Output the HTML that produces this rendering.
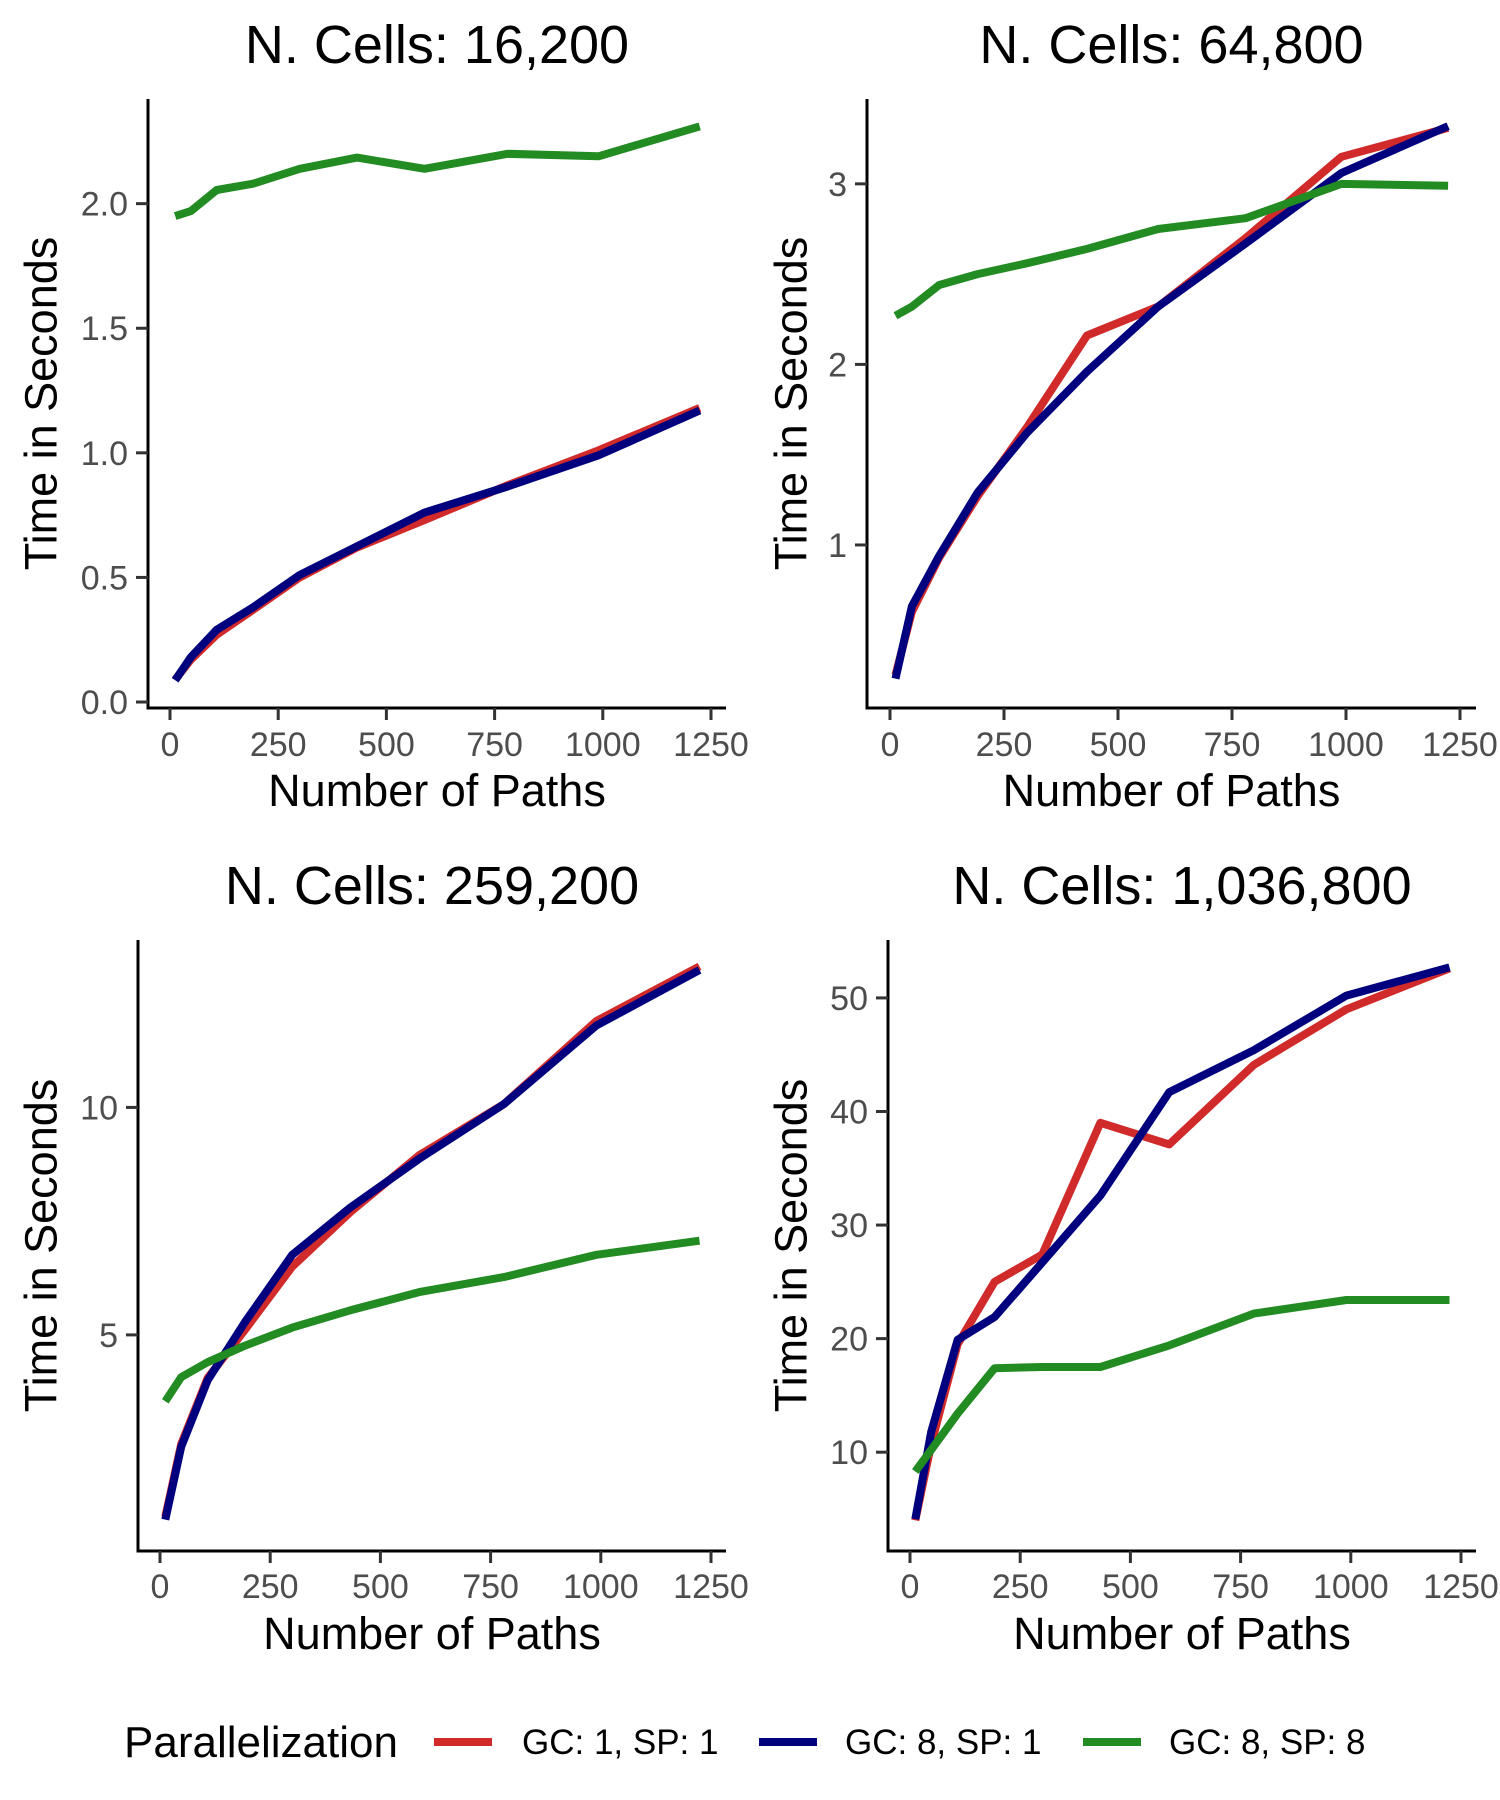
<!DOCTYPE html>
<html><head><meta charset="utf-8">
<style>html,body{margin:0;padding:0;background:#fff}svg{display:block}text{font-family:"Liberation Sans",Arial,sans-serif}</style>
</head><body>
<svg id="chart" width="1500" height="1800" viewBox="0 0 1500 1800" xmlns="http://www.w3.org/2000/svg"></svg>
<script>
const xPaths = [12, 48, 108, 192, 300, 432, 588, 780, 990, 1224];
const xTicks = [0, 250, 500, 750, 1000, 1250];
const seriesNames = ["GC: 1, SP: 1", "GC: 8, SP: 1", "GC: 8, SP: 8"];
const panelTitles = ["N. Cells: 16,200", "N. Cells: 64,800", "N. Cells: 259,200", "N. Cells: 1,036,800"];
const p1Red = [0.09,0.17,0.27,0.37,0.50,0.62,0.73,0.87,1.01,1.18];
const p1Blue = [0.087,0.18,0.29,0.38,0.51,0.625,0.76,0.865,0.99,1.17];
const p1Green = [1.95,1.97,2.055,2.08,2.14,2.185,2.14,2.20,2.19,2.31];
const p2Red = [0.28,0.63,0.93,1.27,1.65,2.16,2.32,2.70,3.15,3.31];
const p2Blue = [0.26,0.66,0.94,1.29,1.62,1.96,2.32,2.67,3.06,3.32];
const p2Green = [2.27,2.32,2.44,2.50,2.56,2.64,2.75,2.81,3.00,2.99];
const p3Red = [1.0,2.6,4.05,5.1,6.5,7.7,8.95,10.07,11.9,13.1];
const p3Blue = [0.94,2.54,4.00,5.27,6.76,7.80,8.87,10.07,11.80,13.02];
const p3Green = [3.54,4.07,4.40,4.76,5.16,5.54,5.94,6.27,6.76,7.07];
const p4Red = [4.0,10.7,19.5,25.0,27.4,39.0,37.1,44.1,49.0,52.6];
const p4Blue = [4.1,11.8,19.9,21.9,26.7,32.6,41.7,45.4,50.2,52.7];
const p4Green = [8.3,10.2,13.4,17.4,17.5,17.5,19.4,22.2,23.4,23.4];
const p1YTicks = [0, 0.5, 1, 1.5, 2];
const p1YLabels = ["0.0","0.5","1.0","1.5","2.0"];
const p2YTicks = [1, 2, 3];
const p2YLabels = ["1","2","3"];
const p3YTicks = [5, 10];
const p3YLabels = ["5","10"];
const p4YTicks = [10, 20, 30, 40, 50];
const p4YLabels = ["10","20","30","40","50"];

const colors = ["#d12a2a", "#00007f", "#228b22"];
const NS = "http://www.w3.org/2000/svg";
const svg = document.getElementById("chart");
function mk(tag, attrs, parent, txt) {
  const e = document.createElementNS(NS, tag);
  for (const k in attrs) e.setAttribute(k, attrs[k]);
  if (txt !== undefined) e.textContent = txt;
  (parent || svg).appendChild(e);
  return e;
}
const layouts = [
  {left:148,right:726,top:99,bottom:708,x0:170,x1:711,ymin:-0.024,ymax:2.42,titleY:63,tickY:756,xtitleY:806,ytitleX:41},
  {left:867,right:1476,top:99,bottom:708,x0:890,x1:1460,ymin:0.097,ymax:3.47,titleY:63,tickY:756,xtitleY:806,ytitleX:791},
  {left:138,right:726,top:940,bottom:1551,x0:160,x1:711,ymin:0.25,ymax:13.68,titleY:904,tickY:1598,xtitleY:1649,ytitleX:41},
  {left:888,right:1476,top:940,bottom:1551,x0:910,x1:1461,ymin:1.3,ymax:55.1,titleY:904,tickY:1598,xtitleY:1649,ytitleX:791}
];
const panelData = [[p1Red,p1Blue,p1Green],[p2Red,p2Blue,p2Green],[p3Red,p3Blue,p3Green],[p4Red,p4Blue,p4Green]];
const panelYTicks = [p1YTicks,p2YTicks,p3YTicks,p4YTicks];
const panelYLabels = [p1YLabels,p2YLabels,p3YLabels,p4YLabels];

layouts.forEach((L, i) => {
  const g = mk("g", {});
  
  
  const xs = v => L.x0 + (v / 1250) * (L.x1 - L.x0);
  const ys = v => L.bottom - (v - L.ymin) / (L.ymax - L.ymin) * (L.bottom - L.top);
  const cx = (L.left + L.right) / 2;
  const t = mk("text", {x:cx, y:L.titleY, "font-size":54, "text-anchor":"middle", fill:"#000"}, g, panelTitles[i]);
  
  
  panelData[i].forEach((vals, s) => {
    const pts = vals.map((v, k) => xs(xPaths[k]).toFixed(1) + "," + ys(v).toFixed(1)).join(" ");
    const pl = mk("polyline", {points:pts, fill:"none", stroke:colors[s], "stroke-width":8, "stroke-linejoin":"round"}, g);
    
    
  });
  const ya = mk("line", {x1:L.left, y1:L.top, x2:L.left, y2:L.bottom + 1.5, stroke:"#000", "stroke-width":3}, g);
  
  
  const xa = mk("line", {x1:L.left - 1.5, y1:L.bottom, x2:L.right, y2:L.bottom, stroke:"#000", "stroke-width":3}, g);
  
  
  xTicks.forEach(v => {
    const tk = mk("line", {x1:xs(v), y1:L.bottom, x2:xs(v), y2:L.bottom + 12, stroke:"#333", "stroke-width":3}, g);
    
    
    const tl = mk("text", {x:xs(v), y:L.tickY, "font-size":34, "text-anchor":"middle", fill:"#4d4d4d"}, g, String(v));
    
    
  });
  panelYTicks[i].forEach((v, k) => {
    const tk = mk("line", {x1:L.left - 12, y1:ys(v), x2:L.left, y2:ys(v), stroke:"#333", "stroke-width":3}, g);
    
    
    const tl = mk("text", {x:L.left - 20, y:ys(v) + 12, "font-size":34, "text-anchor":"end", fill:"#4d4d4d"}, g, panelYLabels[i][k]);
    
    
  });
  const xt = mk("text", {x:cx, y:L.xtitleY, "font-size":45, "text-anchor":"middle", fill:"#000"}, g, "Number of Paths");
  
  
  const cy = (L.top + L.bottom) / 2;
  const yt = mk("text", {x:L.ytitleX, y:cy, "font-size":45, "text-anchor":"middle", fill:"#000", "dominant-baseline":"central", transform:"rotate(-90 " + L.ytitleX + " " + cy + ")"}, g, "Time in Seconds");
  
  
});

const lg = mk("g", {});


const lt = mk("text", {x:124, y:1757, "font-size":44, fill:"#000"}, lg, "Parallelization");


const keyX = [434, 759, 1083];
const labX = [522, 845, 1169];
seriesNames.forEach((n, s) => {
  const k = mk("line", {x1:keyX[s], y1:1742, x2:keyX[s] + 58, y2:1742, stroke:colors[s], "stroke-width":8}, lg);
  
  
  const l = mk("text", {x:labX[s], y:1754, "font-size":35, fill:"#000"}, lg, n);
  
  
});
</script>
</body></html>
